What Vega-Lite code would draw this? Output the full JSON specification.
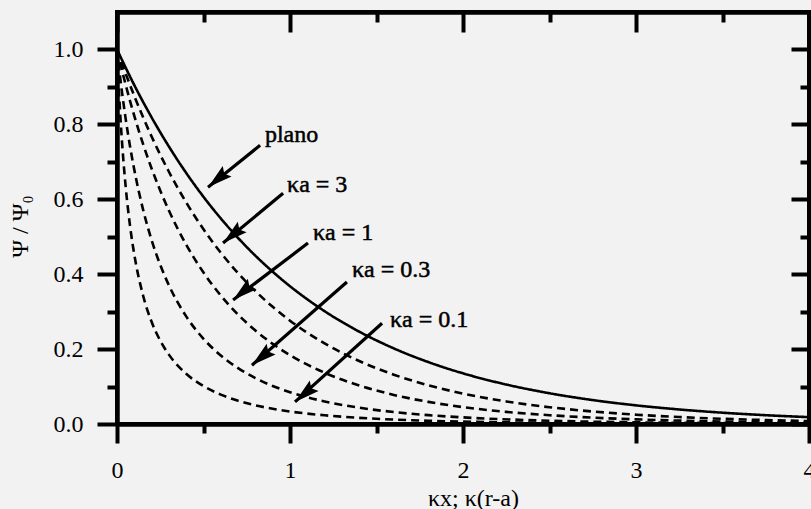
{
  "$schema": "https://vega.github.io/schema/vega-lite/v6.json",
  "width": 692,
  "height": 412,
  "autosize": "none",
  "padding": {"left": 117, "top": 12, "right": 2, "bottom": 85},
  "background": "#f2f2f2",
  "config": {
    "view": {"stroke": null},
    "axis": {
      "grid": false,
      "domainColor": "#000000",
      "tickColor": "#000000",
      "domainWidth": 4.5,
      "tickWidth": 4,
      "labelFont": "Liberation Serif",
      "labelFontSize": 24,
      "labelColor": "#000000",
      "titleFont": "Liberation Serif",
      "titleFontSize": 24,
      "titleFontWeight": "normal",
      "titleColor": "#000000"
    }
  },
  "datasets": {
    "curves": [
      {"s":"plano","x":0,"y":1},{"s":"plano","x":0.1,"y":0.9048},{"s":"plano","x":0.2,"y":0.8187},{"s":"plano","x":0.3,"y":0.7408},{"s":"plano","x":0.4,"y":0.6703},{"s":"plano","x":0.5,"y":0.6065},{"s":"plano","x":0.6,"y":0.5488},{"s":"plano","x":0.7,"y":0.4966},{"s":"plano","x":0.8,"y":0.4493},{"s":"plano","x":0.9,"y":0.4066},{"s":"plano","x":1.0,"y":0.3679},{"s":"plano","x":1.2,"y":0.3012},{"s":"plano","x":1.4,"y":0.2466},{"s":"plano","x":1.6,"y":0.2019},{"s":"plano","x":1.8,"y":0.1653},{"s":"plano","x":2.0,"y":0.1353},{"s":"plano","x":2.25,"y":0.1054},{"s":"plano","x":2.5,"y":0.0821},{"s":"plano","x":2.75,"y":0.0639},{"s":"plano","x":3.0,"y":0.0498},{"s":"plano","x":3.25,"y":0.0388},{"s":"plano","x":3.5,"y":0.0302},{"s":"plano","x":3.75,"y":0.0235},{"s":"plano","x":4.0,"y":0.0183},
      {"s":"ka3","x":0,"y":1},{"s":"ka3","x":0.05,"y":0.9356},{"s":"ka3","x":0.1,"y":0.8757},{"s":"ka3","x":0.2,"y":0.7676},{"s":"ka3","x":0.3,"y":0.6735},{"s":"ka3","x":0.4,"y":0.5915},{"s":"ka3","x":0.5,"y":0.5199},{"s":"ka3","x":0.6,"y":0.4573},{"s":"ka3","x":0.7,"y":0.4026},{"s":"ka3","x":0.8,"y":0.3547},{"s":"ka3","x":0.9,"y":0.3128},{"s":"ka3","x":1.0,"y":0.2759},{"s":"ka3","x":1.2,"y":0.2151},{"s":"ka3","x":1.4,"y":0.1681},{"s":"ka3","x":1.6,"y":0.1317},{"s":"ka3","x":1.8,"y":0.1033},{"s":"ka3","x":2.0,"y":0.0812},{"s":"ka3","x":2.25,"y":0.0602},{"s":"ka3","x":2.5,"y":0.0448},{"s":"ka3","x":2.75,"y":0.0334},{"s":"ka3","x":3.0,"y":0.0249},{"s":"ka3","x":3.25,"y":0.0186},{"s":"ka3","x":3.5,"y":0.0139},{"s":"ka3","x":3.75,"y":0.0105},{"s":"ka3","x":4.0,"y":0.0079},
      {"s":"ka1","x":0,"y":1},{"s":"ka1","x":0.025,"y":0.9515},{"s":"ka1","x":0.05,"y":0.9059},{"s":"ka1","x":0.1,"y":0.8226},{"s":"ka1","x":0.15,"y":0.7485},{"s":"ka1","x":0.2,"y":0.6823},{"s":"ka1","x":0.3,"y":0.5699},{"s":"ka1","x":0.4,"y":0.4788},{"s":"ka1","x":0.5,"y":0.4044},{"s":"ka1","x":0.6,"y":0.343},{"s":"ka1","x":0.7,"y":0.2921},{"s":"ka1","x":0.8,"y":0.2496},{"s":"ka1","x":0.9,"y":0.214},{"s":"ka1","x":1.0,"y":0.1839},{"s":"ka1","x":1.2,"y":0.1369},{"s":"ka1","x":1.4,"y":0.1028},{"s":"ka1","x":1.6,"y":0.0777},{"s":"ka1","x":1.8,"y":0.059},{"s":"ka1","x":2.0,"y":0.0451},{"s":"ka1","x":2.25,"y":0.0324},{"s":"ka1","x":2.5,"y":0.0235},{"s":"ka1","x":2.75,"y":0.017},{"s":"ka1","x":3.0,"y":0.0124},{"s":"ka1","x":3.5,"y":0.0067},{"s":"ka1","x":4.0,"y":0.0037},
      {"s":"ka03","x":0,"y":1},{"s":"ka03","x":0.01,"y":0.9581},{"s":"ka03","x":0.02,"y":0.9189},{"s":"ka03","x":0.03,"y":0.8822},{"s":"ka03","x":0.05,"y":0.8153},{"s":"ka03","x":0.075,"y":0.7422},{"s":"ka03","x":0.1,"y":0.6786},{"s":"ka03","x":0.15,"y":0.5738},{"s":"ka03","x":0.2,"y":0.4912},{"s":"ka03","x":0.25,"y":0.4248},{"s":"ka03","x":0.3,"y":0.3704},{"s":"ka03","x":0.4,"y":0.2873},{"s":"ka03","x":0.5,"y":0.2274},{"s":"ka03","x":0.6,"y":0.1829},{"s":"ka03","x":0.7,"y":0.149},{"s":"ka03","x":0.8,"y":0.1225},{"s":"ka03","x":0.9,"y":0.1016},{"s":"ka03","x":1.0,"y":0.0849},{"s":"ka03","x":1.2,"y":0.0602},{"s":"ka03","x":1.4,"y":0.0435},{"s":"ka03","x":1.6,"y":0.0319},{"s":"ka03","x":1.8,"y":0.0236},{"s":"ka03","x":2.0,"y":0.0177},{"s":"ka03","x":2.5,"y":0.0088},{"s":"ka03","x":3.0,"y":0.0045},{"s":"ka03","x":3.5,"y":0.0024},{"s":"ka03","x":4.0,"y":0.0013},
      {"s":"ka01","x":0,"y":1},{"s":"ka01","x":0.005,"y":0.9476},{"s":"ka01","x":0.01,"y":0.9},{"s":"ka01","x":0.02,"y":0.8168},{"s":"ka01","x":0.03,"y":0.7465},{"s":"ka01","x":0.05,"y":0.6342},{"s":"ka01","x":0.075,"y":0.5301},{"s":"ka01","x":0.1,"y":0.4524},{"s":"ka01","x":0.15,"y":0.3443},{"s":"ka01","x":0.2,"y":0.2729},{"s":"ka01","x":0.25,"y":0.2225},{"s":"ka01","x":0.3,"y":0.1852},{"s":"ka01","x":0.4,"y":0.1341},{"s":"ka01","x":0.5,"y":0.1011},{"s":"ka01","x":0.6,"y":0.0784},{"s":"ka01","x":0.7,"y":0.0621},{"s":"ka01","x":0.8,"y":0.0499},{"s":"ka01","x":0.9,"y":0.0407},{"s":"ka01","x":1.0,"y":0.0334},{"s":"ka01","x":1.2,"y":0.0232},{"s":"ka01","x":1.4,"y":0.0164},{"s":"ka01","x":1.6,"y":0.0119},{"s":"ka01","x":1.8,"y":0.0087},{"s":"ka01","x":2.0,"y":0.0064},{"s":"ka01","x":2.5,"y":0.0032},{"s":"ka01","x":3.0,"y":0.0016},{"s":"ka01","x":3.5,"y":0.0008},{"s":"ka01","x":4.0,"y":0.0004}
    ],
    "arrows": [
      {"label":"plano","x":0.827,"y":0.744,"hx":0.526,"hy":0.632,"tx":0.855,"ty":0.752},
      {"label":"κa = 3","x":0.960,"y":0.616,"hx":0.613,"hy":0.483,"tx":0.983,"ty":0.619},
      {"label":"κa = 1","x":1.104,"y":0.483,"hx":0.671,"hy":0.331,"tx":1.133,"ty":0.491},
      {"label":"κa = 0.3","x":1.329,"y":0.379,"hx":0.780,"hy":0.157,"tx":1.358,"ty":0.392},
      {"label":"κa = 0.1","x":1.532,"y":0.269,"hx":1.029,"hy":0.059,"tx":1.578,"ty":0.259}
    ],
    "frame": [
      {"x0": 0, "x1": 4, "y0": 0, "y1": 1.1}
    ]
  },
  "layer": [
    {
      "data": {"name": "curves"},
      "mark": {"type": "line", "interpolate": "monotone", "color": "#000000", "strokeWidth": 2.6},
      "encoding": {
        "x": {"field": "x", "type": "quantitative", "scale": {"domain": [0, 4], "nice": false},
          "axis": {"orient": "bottom", "values": [0, 1, 2, 3, 4], "tickSize": 19, "labelBaseline": "alphabetic", "labelPadding": 34, "labelFlush": false, "title": "κx; κ(r-a)", "titleX": 356, "titleY": 81, "titleBaseline": "alphabetic", "titleAlign": "center"}},
        "y": {"field": "y", "type": "quantitative", "scale": {"domain": [0, 1.1], "nice": false},
          "axis": {"orient": "left", "values": [0, 0.2, 0.4, 0.6, 0.8, 1.0], "format": ".1f", "tickSize": 20, "labelPadding": 14, "labelFlush": false, "title": "Ψ / Ψ₀", "titleX": -97, "titleY": 214, "titleBaseline": "middle", "titleAlign": "center", "titleAngle": -90}},
        "detail": {"field": "s"},
        "strokeDash": {"field": "s", "type": "nominal", "legend": null,
          "scale": {"domain": ["plano", "ka3", "ka1", "ka03", "ka01"], "range": [[1, 0], [8, 5], [8, 5], [8, 5], [8, 5]]}}
      }
    },
    {
      "data": {"name": "arrows"},
      "mark": {"type": "rule", "color": "#000000", "strokeWidth": 3.2},
      "encoding": {
        "x": {"field": "x", "type": "quantitative", "scale": {"domain": [0, 4], "nice": false},
          "axis": {"orient": "bottom", "values": [0.5, 1.5, 2.5, 3.5], "tickSize": 9, "labels": false, "domain": false, "title": null}},
        "y": {"field": "y", "type": "quantitative", "scale": {"domain": [0, 1.1], "nice": false},
          "axis": {"orient": "left", "values": [0.1, 0.3, 0.5, 0.7, 0.9], "tickSize": 10, "labels": false, "domain": false, "title": null}},
        "x2": {"field": "hx"},
        "y2": {"field": "hy"}
      }
    },
    {
      "data": {"name": "arrows"},
      "mark": {"type": "point", "shape": "M0,0L-0.55,2L0,1.7L0.55,2Z", "size": 625, "angle": 230, "filled": true, "color": "#000000", "opacity": 1},
      "encoding": {
        "x": {"field": "hx", "type": "quantitative", "scale": {"domain": [0, 4], "nice": false},
          "axis": {"orient": "top", "values": [0, 1, 2, 3, 4], "tickSize": -20, "labels": false, "domain": true, "title": null}},
        "y": {"field": "hy", "type": "quantitative", "scale": {"domain": [0, 1.1], "nice": false},
          "axis": {"orient": "right", "values": [0, 0.2, 0.4, 0.6, 0.8, 1.0], "tickSize": -18, "labels": false, "domain": true, "title": null}}
      }
    },
    {
      "data": {"name": "arrows"},
      "mark": {"type": "text", "align": "left", "baseline": "alphabetic", "font": "Liberation Serif", "fontSize": 24, "color": "#000000", "stroke": "#000000", "strokeWidth": 0.5},
      "encoding": {
        "x": {"field": "tx", "type": "quantitative", "scale": {"domain": [0, 4], "nice": false},
          "axis": {"orient": "top", "values": [0.5, 1.5, 2.5, 3.5], "tickSize": -10, "labels": false, "domain": false, "title": null}},
        "y": {"field": "ty", "type": "quantitative", "scale": {"domain": [0, 1.1], "nice": false},
          "axis": {"orient": "right", "values": [0.1, 0.3, 0.5, 0.7, 0.9], "tickSize": -9, "labels": false, "domain": false, "title": null}},
        "text": {"field": "label"}
      }
    },
    {
      "data": {"name": "frame"},
      "mark": {"type": "rect", "fill": "transparent", "stroke": "#000000", "strokeWidth": 4},
      "encoding": {
        "x": {"field": "x0", "type": "quantitative", "scale": {"domain": [0, 4], "nice": false}, "axis": null},
        "x2": {"field": "x1"},
        "y": {"field": "y0", "type": "quantitative", "scale": {"domain": [0, 1.1], "nice": false}, "axis": null},
        "y2": {"field": "y1"}
      }
    }
  ],
  "resolve": {"axis": {"x": "independent", "y": "independent"}}
}
